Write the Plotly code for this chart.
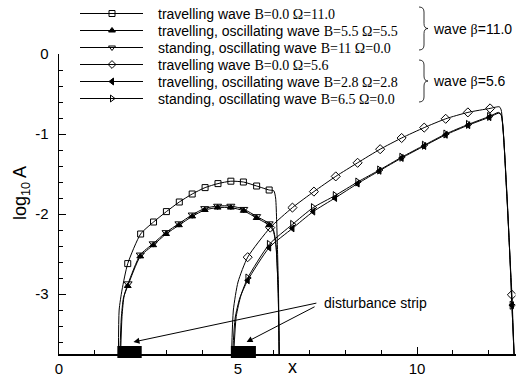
import plotly.graph_objects as go

W, H = 516, 376

# ---------------- data ----------------
# beta = 11.0 : travelling wave B=0.0 Omega=11.0  (open squares)
A_x = [1.66, 1.68, 1.76, 1.92, 2.28, 2.64, 3.00, 3.36, 3.72, 4.08, 4.44, 4.80, 5.15, 5.52, 5.87, 6.00, 6.05, 6.08, 6.13, 6.15]
A_y = [-3.75, -3.20, -2.95, -2.62, -2.25, -2.10, -1.97, -1.85, -1.75, -1.67, -1.62, -1.59, -1.60, -1.65, -1.70, -1.71, -1.80, -2.10, -2.95, -3.75]
A_m = [0, 0, 0, 1, 1, 1, 1, 1, 1, 1, 1, 1, 1, 1, 1, 0, 0, 0, 0, 0]

# beta = 11.0 : travelling, oscillating wave B=5.5 Omega=5.5 (filled up-triangles)
B_x = [1.70, 1.74, 1.80, 1.92, 2.27, 2.63, 2.99, 3.35, 3.72, 4.07, 4.43, 4.80, 5.16, 5.52, 5.87, 5.99, 6.06, 6.12, 6.15]
B_y = [-3.75, -3.30, -3.05, -2.90, -2.53, -2.39, -2.25, -2.14, -2.03, -1.95, -1.92, -1.92, -1.96, -2.05, -2.14, -2.22, -2.40, -2.95, -3.75]
B_m = [0, 0, 0, 1, 1, 1, 1, 1, 1, 1, 1, 1, 1, 1, 1, 0, 0, 0, 0]

# beta = 11.0 : standing, oscillating wave B=11 Omega=0.0 (open down-triangles)
C_x = [1.72, 1.76, 1.82, 1.93, 2.27, 2.63, 2.99, 3.35, 3.72, 4.07, 4.43, 4.80, 5.16, 5.52, 5.87, 5.99, 6.06, 6.12, 6.15]
C_y = [-3.75, -3.28, -3.02, -2.87, -2.51, -2.37, -2.23, -2.12, -2.01, -1.93, -1.90, -1.90, -1.94, -2.03, -2.12, -2.20, -2.38, -2.95, -3.75]
C_m = [0, 0, 0, 1, 1, 1, 1, 1, 1, 1, 1, 1, 1, 1, 1, 0, 0, 0, 0]

# beta = 5.6 : travelling wave B=0.0 Omega=5.6 (open diamonds)
D_x = [4.82, 4.87, 5.00, 5.27, 5.90, 6.52, 7.12, 7.73, 8.34, 8.97, 9.57, 10.20, 10.80, 11.42, 12.04, 12.30, 12.35, 12.50, 12.60, 12.65, 12.71]
D_y = [-3.75, -3.20, -2.85, -2.54, -2.17, -1.92, -1.72, -1.53, -1.36, -1.19, -1.05, -0.92, -0.81, -0.73, -0.68, -0.66, -0.70, -1.66, -2.58, -3.01, -3.75]
D_m = [0, 0, 0, 1, 1, 1, 1, 1, 1, 1, 1, 1, 1, 1, 1, 0, 0, 0, 0, 1, 0]

# beta = 5.6 : travelling, oscillating wave B=2.8 Omega=2.8 (filled left-triangles)
E_x = [4.85, 4.92, 5.05, 5.27, 5.87, 6.52, 7.10, 7.71, 8.34, 8.95, 9.57, 10.20, 10.80, 11.43, 12.02, 12.28, 12.35, 12.50, 12.60, 12.65, 12.71]
E_y = [-3.75, -3.30, -3.05, -2.83, -2.42, -2.18, -1.97, -1.80, -1.62, -1.46, -1.30, -1.15, -1.01, -0.89, -0.79, -0.74, -0.76, -1.70, -2.60, -3.14, -3.75]
E_m = [0, 0, 0, 1, 1, 1, 1, 1, 1, 1, 1, 1, 1, 1, 1, 0, 0, 0, 0, 1, 0]

# beta = 5.6 : standing, oscillating wave B=6.5 Omega=0.0 (open right-triangles)
F_x = [4.88, 4.95, 5.08, 5.27, 5.87, 6.52, 7.10, 7.71, 8.34, 8.95, 9.57, 10.20, 10.80, 11.43, 12.02, 12.28, 12.35, 12.50, 12.60, 12.65, 12.71]
F_y = [-3.75, -3.28, -3.02, -2.80, -2.38, -2.13, -1.92, -1.77, -1.60, -1.45, -1.29, -1.14, -1.00, -0.88, -0.78, -0.73, -0.76, -1.70, -2.60, -3.14, -3.75]
F_m = [0, 0, 0, 1, 1, 1, 1, 1, 1, 1, 1, 1, 1, 1, 1, 0, 0, 0, 0, 1, 0]

# disturbance strips (x extents)
strip_x0 = [1.63, 4.80]
strip_x1 = [2.31, 5.50]
# arrow tips / tails
arrow_tip_x = [2.08, 5.24]
arrow_tip_y = [-3.60, -3.60]
arrow_tail_x = [7.23, 7.18]
arrow_tail_y = [-3.11, -3.15]

x_ticks = [0, 5, 10]
y_ticks = [0, -1, -2, -3]

SERIF = "Liberation Serif"
labels = [
    'travelling wave <span style="font-family:%s">B=0.0 Ω=11.0</span>' % SERIF,
    'travelling, oscillating wave <span style="font-family:%s">B=5.5 Ω=5.5</span>' % SERIF,
    'standing, oscillating wave <span style="font-family:%s">B=11 Ω=0.0</span>' % SERIF,
    'travelling wave <span style="font-family:%s">B=0.0 Ω=5.6</span>' % SERIF,
    'travelling, oscillating wave <span style="font-family:%s">B=2.8 Ω=2.8</span>' % SERIF,
    'standing, oscillating wave <span style="font-family:%s">B=6.5 Ω=0.0</span>' % SERIF,
]
group_labels = ['wave <span style="font-family:%s">β</span>=11.0' % SERIF,
                'wave <span style="font-family:%s">β</span>=5.6' % SERIF]

series = [(A_x, A_y, A_m), (B_x, B_y, B_m), (C_x, C_y, C_m),
          (D_x, D_y, D_m), (E_x, E_y, E_m), (F_x, F_y, F_m)]
symbols = ['square-open', 'triangle-up', 'triangle-down-open',
           'diamond-open', 'triangle-left', 'triangle-right-open']
msizes = [6, 6, 7, 7, 6, 7]

SANS = "Liberation Sans, Arial, sans-serif"
fig = go.Figure()

for (xs, ys, ms), sym, sz in zip(series, symbols, msizes):
    fig.add_trace(go.Scatter(x=xs, y=ys, mode='lines', xaxis='x', yaxis='y',
                             line=dict(color='black', width=1, shape='spline', smoothing=0.6),
                             showlegend=False, hoverinfo='skip'))
    mx = [x for x, m in zip(xs, ms) if m]
    my = [y for y, m in zip(ys, ms) if m]
    fig.add_trace(go.Scatter(x=mx, y=my, mode='markers', xaxis='x', yaxis='y',
                             marker=dict(symbol=sym, size=sz, color='black',
                                         line=dict(color='black', width=1)),
                             showlegend=False, hoverinfo='skip'))

# ---------------- hand-built legend in pixel coordinates ----------------
row_y = [13.5, 30.5, 47.5, 64.5, 81.5, 98.5]
for ry, sym, lab in zip(row_y, symbols, labels):
    fig.add_trace(go.Scatter(x=[80, 143], y=[ry, ry], mode='lines', xaxis='x2', yaxis='y2',
                             line=dict(color='black', width=1), showlegend=False, hoverinfo='skip'))
    fig.add_trace(go.Scatter(x=[112], y=[ry], mode='markers', xaxis='x2', yaxis='y2',
                             marker=dict(symbol=sym, size=6, color='black',
                                         line=dict(color='black', width=1)),
                             showlegend=False, hoverinfo='skip'))
    fig.add_annotation(x=156, y=ry, xref='x2', yref='y2', text=lab, showarrow=False,
                       xanchor='left', yanchor='middle', font=dict(family=SANS, size=14, color='black'))

shapes = []
# braces
for (top, bot, gy), glab in zip([(7, 50, 28.5), (60, 102, 81)], group_labels):
    xl, xm, xr = 419, 424, 428
    path = (f"M{xl},{top} Q{xm},{top} {xm},{top+5} L{xm},{gy-5} Q{xm},{gy} {xr},{gy} "
            f"Q{xm},{gy} {xm},{gy+5} L{xm},{bot-5} Q{xm},{bot} {xl},{bot}")
    shapes.append(dict(type='path', path=path, xref='x2', yref='y2',
                       line=dict(color='black', width=0.8)))
    fig.add_annotation(x=431, y=gy, xref='x2', yref='y2', text=glab, showarrow=False,
                       xanchor='left', yanchor='middle', font=dict(family=SANS, size=14, color='black'))

# disturbance strips
ybot = 1 - 358 / H
ytop = 1 - 346 / H
for x0, x1 in zip(strip_x0, strip_x1):
    shapes.append(dict(type='rect', xref='x', yref='paper', x0=x0, x1=x1, y0=ybot, y1=ytop,
                       fillcolor='black', line=dict(width=0)))

for tx, ty, ax, ay in zip(arrow_tip_x, arrow_tip_y, arrow_tail_x, arrow_tail_y):
    fig.add_annotation(x=tx, y=ty, xref='x', yref='y', ax=ax, ay=ay, axref='x', ayref='y',
                       text='', showarrow=True, arrowhead=2, arrowsize=1.2, arrowwidth=1,
                       arrowcolor='black', standoff=0)

fig.add_annotation(x=322, y=302.5, xref='x2', yref='y2', text='disturbance strip', showarrow=False,
                   xanchor='left', yanchor='middle', font=dict(family=SANS, size=14, color='black'))

# axis titles
fig.add_annotation(x=292, y=367, xref='x2', yref='y2', text='x', showarrow=False,
                   xanchor='center', yanchor='middle', font=dict(family=SANS, size=18, color='black'))
fig.add_annotation(x=21, y=193, xref='x2', yref='y2', text='log<sub>10</sub> A', showarrow=False,
                   textangle=-90, xanchor='center', yanchor='middle',
                   font=dict(family=SANS, size=18, color='black'))

axis_common = dict(showgrid=False, zeroline=False, showline=True, linecolor='black', linewidth=1.5,
                   ticks='inside', ticklen=7, tickwidth=1, tickcolor='black', automargin=False,
                   tickfont=dict(family=SANS, size=15, color='black'))

fig.update_layout(
    width=W, height=H, autosize=False,
    margin=dict(l=0, r=0, t=0, b=0, pad=0),
    paper_bgcolor='white', plot_bgcolor='rgba(0,0,0,0)',
    shapes=shapes,
    showlegend=False,
    xaxis=dict(domain=[59 / W, 515.5 / W], range=[0, 12.75], anchor='y',
               tickvals=x_ticks, ticktext=[str(v) for v in x_ticks],
               minor=dict(dtick=1, tick0=0, ticks='inside', ticklen=4, tickwidth=1, tickcolor='black'),
               **axis_common),
    yaxis=dict(domain=[1 - 354 / H, 1 - 54 / H], range=[-3.75, 0], anchor='x',
               tickvals=y_ticks, ticktext=[str(v) for v in y_ticks], ticklabelstandoff=6,
               minor=dict(dtick=0.2, tick0=0, ticks='inside', ticklen=4, tickwidth=1, tickcolor='black'),
               **axis_common),
    xaxis2=dict(domain=[0, 1], range=[0, W], anchor='y2', visible=False, fixedrange=True, automargin=False),
    yaxis2=dict(domain=[0, 1], range=[H, 0], anchor='x2', visible=False, fixedrange=True, automargin=False),
)

fig.write_html("out.html", config={'displayModeBar': False, 'staticPlot': True},
               post_script="document.body.style.margin='0';document.body.style.overflow='hidden';")
